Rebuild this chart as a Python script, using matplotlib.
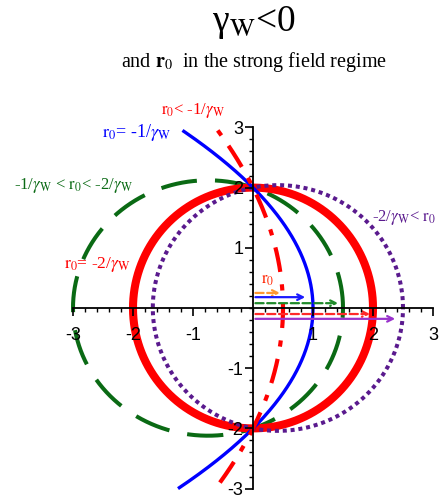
import numpy as np
import matplotlib

matplotlib.use("Agg")
import matplotlib.pyplot as plt
from matplotlib.ticker import FixedLocator, FixedFormatter

plt.rcParams["axes.unicode_minus"] = False
plt.rcParams["mathtext.fontset"] = "stix"
plt.rcParams["font.family"] = ["Liberation Serif", "DejaVu Serif"]

# orbit branches: crossing of the +x axis (r0), crossing of the -x axis
# (None = open branch), vertical extent of the open branches
r_right = [0.5, 1.0, 1.5, 2.0, 2.5]
r_left = [None, None, -3.0, -2.0, -1.67]
y_span = [(-2.9, 2.95), (-3.0, 2.95), None, None, None]

colors = ["#ff0000", "#0000ff", "#0a6a14", "#ff0000", "#5a1a8e"]
widths = [3.0, 2.4, 2.9, 5.8, 2.9]
styles = [(0, (6, 3, 1.5, 3)), "-", (0, (9, 4.5)), "-", (0, (1, 0.95))]
zorders = [6, 5, 2, 3, 4]

# r0 arrows along the x axis
arrow_y = [0.25, 0.18, 0.08, -0.10, -0.18]
arrow_end = [0.45, 0.87, 1.42, 1.95, 2.37]
arrow_colors = ["#ff9933", "#1a1aff", "#1f8a2a", "#ff2a2a", "#9933cc"]
arrow_styles = ["--", "-", "--", "--", "-"]

labels = [
    r"$\mathrm{r_0}$< -1/$\gamma_\mathrm{W}$",
    r"$\mathrm{r_0}$= -1/$\gamma_\mathrm{W}$",
    r"-1/$\gamma_\mathrm{W}$ < $\mathrm{r_0}$< -2/$\gamma_\mathrm{W}$",
    r"$\mathrm{r_0}$= -2/$\gamma_\mathrm{W}$",
    r"-2/$\gamma_\mathrm{W}$< $\mathrm{r_0}$",
]
label_xy = [(-1.0, 3.28), (-1.94, 2.91), (-3.0, 2.03), (-2.6, 0.72), (1.99, 1.51)]
label_colors = ["#ff0000", "#0000ff", "#0a6a14", "#ff0000", "#5a1a8e"]
label_sizes = [12, 13, 12, 12.5, 12]
label_ha = ["center", "center", "center", "center", "left"]

tick_values = [-3, -2, -1, 1, 2, 3]
tick_text = ["-3", "-2", "-1", "1", "2", "3"]
minor_values = np.round(np.arange(-3, 3.001, 0.2), 2)

fig = plt.figure(figsize=(4.42, 5.01), dpi=100)
ax = fig.add_axes([0, 0, 1, 1])
ax.set_xlim(-253 / 60, 189 / 60)
ax.set_ylim(-193 / 60.2, 308 / 60.2)
ax.patch.set_visible(False)

for r0, l, span, c, lw, ls, z in zip(r_right, r_left, y_span, colors,
                                     widths, styles, zorders):
    if l is None:
        y = np.linspace(span[0], span[1], 400)
        x = r0 * (1 - (y / 2) ** 2)
    else:
        centre = (r0 + l) / 2
        a = (r0 - l) / 2
        b = 2 * a / np.sqrt(-r0 * l)
        t = np.linspace(0, 2 * np.pi, 600)
        x = centre + a * np.cos(t)
        y = b * np.sin(t)
    ax.plot(x, y, color=c, lw=lw, linestyle=ls, zorder=z,
            solid_capstyle="butt", dash_capstyle="butt")

for y, xe, c, ls in zip(arrow_y, arrow_end, arrow_colors, arrow_styles):
    ax.annotate("", xy=(xe, y), xytext=(0.04, y),
                arrowprops=dict(arrowstyle="->", color=c, lw=1.6,
                                linestyle=ls, shrinkA=0, shrinkB=0),
                zorder=7)

ax.text(0.25, 0.47, r"$\mathrm{r_0}$", color="#ff2200", fontsize=12,
        ha="center", va="center", zorder=8)

for txt, (lx, ly), c, fs, ha in zip(labels, label_xy, label_colors,
                                    label_sizes, label_ha):
    ax.text(lx, ly, txt, color=c, fontsize=fs, ha=ha, va="center",
            zorder=8)

# axes crossing at the origin, drawn over the curves
for side in ("top", "right"):
    ax.spines[side].set_visible(False)
for side in ("left", "bottom"):
    ax.spines[side].set_position(("data", 0))
    ax.spines[side].set_bounds(-3, 3)
    ax.spines[side].set_linewidth(1.3)
    ax.spines[side].set_zorder(9)

for axis in (ax.xaxis, ax.yaxis):
    axis.set_major_locator(FixedLocator(tick_values))
    axis.set_major_formatter(FixedFormatter(tick_text))
    axis.set_minor_locator(FixedLocator(minor_values))
    axis.set_zorder(10)
ax.tick_params(which="major", direction="out", length=5.5, width=1.2,
               labelsize=13, labelfontfamily="Liberation Sans")
ax.tick_params(which="minor", direction="out", length=3, width=1.0)
ax.tick_params(axis="x", which="major", pad=8)
ax.tick_params(axis="y", which="major", pad=1.5)

fig.text(0.575, 0.955, r"γ$_{\mathrm{W}}$<0", fontsize=27, ha="center",
         va="center")
fig.text(0.575, 0.876, r"and $\mathbf{r}_{0}$  in the strong field regime",
         fontsize=14.5, ha="center", va="center")

fig.savefig("out.png", dpi=100)
